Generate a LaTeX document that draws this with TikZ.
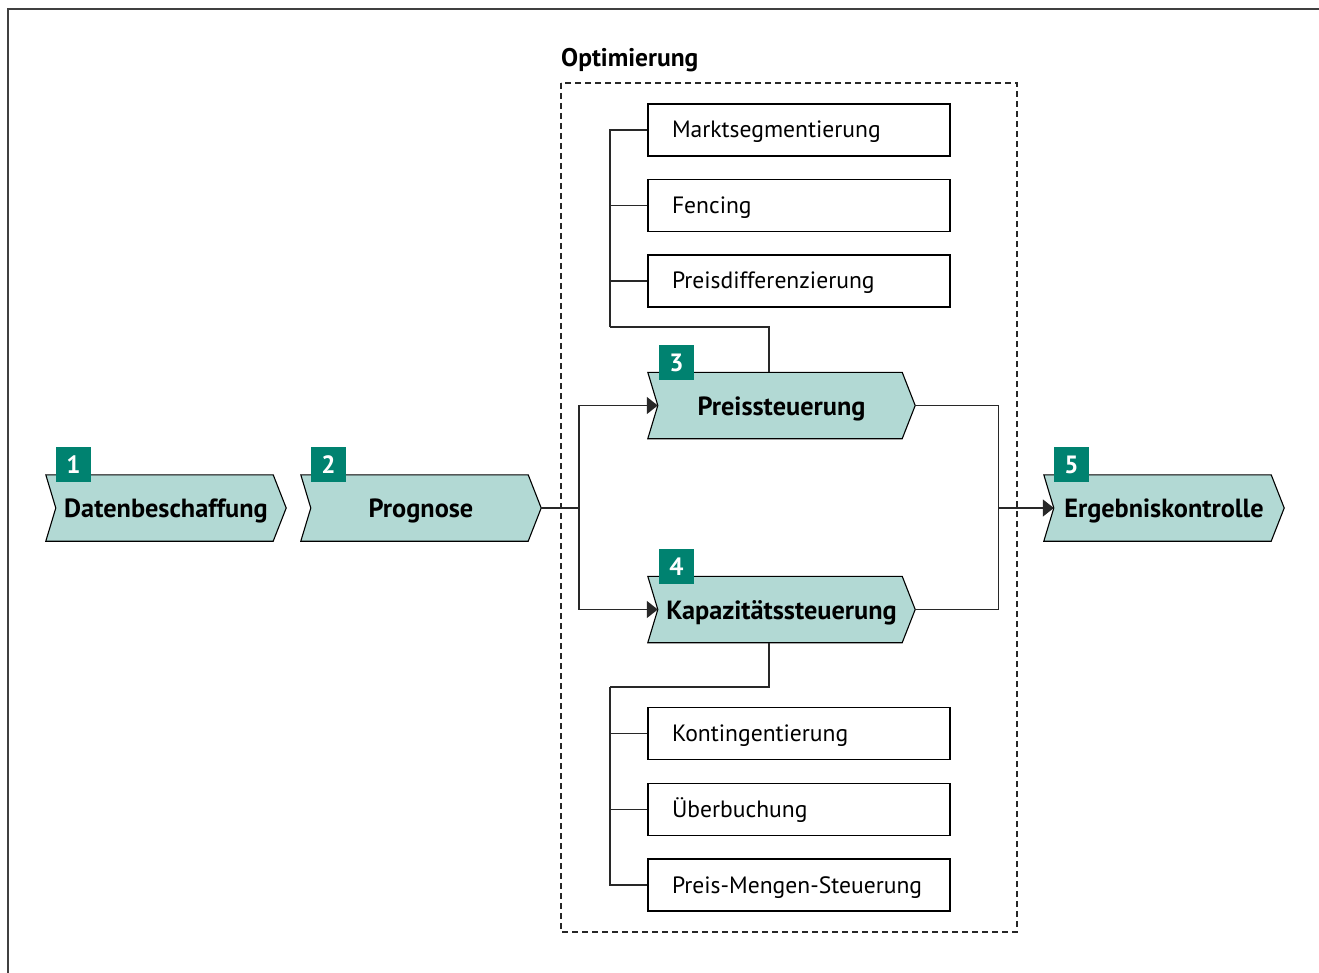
\documentclass[tikz,border=0pt]{standalone}
\usepackage{fontspec}
\setmainfont{PT Sans}
\usetikzlibrary{arrows.meta,calc}
\pgfdeclarelayer{background}
\pgfsetlayers{background,main}
\definecolor{chevfill}{RGB}{178,217,212}
\definecolor{badge}{RGB}{0,130,112}
\definecolor{linegray}{RGB}{40,40,40}
\tikzset{
 chev/.style={minimum height=66pt, inner sep=0pt, text height=19pt, text depth=0pt, font=\bfseries\fontsize{26.3}{30}\selectfont},
 chevshape/.style={fill=chevfill, draw=black, line width=1.1pt},
 badgebox/.style={fill=badge, text=white, minimum size=35pt, inner sep=0pt, font=\bfseries\fontsize{25}{30}\selectfont},
 subbox/.style={draw=black, line width=1.4pt, minimum height=52pt, text width=254pt, inner xsep=24pt, inner ysep=0pt, align=left, text height=16pt, text depth=0pt, font=\fontsize{23.6}{28}\selectfont},
 conn/.style={draw=linegray, line width=1.5pt},
 arr/.style={conn, -{Triangle[length=11pt,width=17pt]}},
 framestyle/.style={draw=black!75, line width=2pt},
 optbox/.style={draw=black!85, line width=1.3pt, dash pattern=on 6pt off 4pt},
}
\newcommand\chevbg[1]{\begin{pgfonlayer}{background}\path[chevshape] (#1.north west) -- ([xshift=-13pt]#1.north east) -- (#1.east) -- ([xshift=-13pt]#1.south east) -- (#1.south west) -- ([xshift=10pt]#1.west) -- cycle;\end{pgfonlayer}}
\begin{document}
\begin{tikzpicture}[x=1pt,y=-1pt]
\useasboundingbox (0,0) rectangle (1319,973);
% frame
\draw[framestyle] (8,973) -- (8,9) -- (1319,9);
% dashed optimisation box
\draw[optbox] (561,83) rectangle (1017,932);
\node[anchor=base west, inner sep=0pt, font=\bfseries\fontsize{25.5}{30}\selectfont] (opt) at (561,67) {Optimierung};
% chevrons
\node[chev, minimum width=240pt] (c1) at (166,508) {Datenbeschaffung};
\node[chev, minimum width=240pt] (c2) at (421,508) {Prognose};
\node[chev, minimum width=267pt] (c3) at (781.5,405.5) {Preissteuerung};
\node[chev, minimum width=267pt] (c4) at (781.5,609.5) {Kapazitätssteuerung};
\node[chev, minimum width=240pt] (c5) at (1164,508) {Ergebniskontrolle};
\chevbg{c1}\chevbg{c2}\chevbg{c3}\chevbg{c4}\chevbg{c5}
% badges
\node[badgebox] (b1) at (73.5,464.5) {1};
\node[badgebox] (b2) at (328.5,464.5) {2};
\node[badgebox] (b3) at (676.5,362.5) {3};
\node[badgebox] (b4) at (676.5,566.5) {4};
\node[badgebox] (b5) at (1071.5,464.5) {5};
% sub boxes
\node[subbox] (s1) at (799,130) {Marktsegmentierung};
\node[subbox] (s2) at (799,205.5) {Fencing};
\node[subbox] (s3) at (799,281) {Preisdifferenzierung};
\node[subbox] (s4) at (799,733.5) {Kontingentierung};
\node[subbox] (s5) at (799,809.5) {Überbuchung};
\node[subbox] (s6) at (799,885) {\mbox{Preis-Mengen-Steuerung}};
% coordinates
\coordinate (j1) at (579,508);
\coordinate (j2) at (998.5,508);
\coordinate (c3in) at ([xshift=10pt]c3.west);
\coordinate (c4in) at ([xshift=10pt]c4.west);
\coordinate (c5in) at ([xshift=10pt]c5.west);
\coordinate (t1) at (610,327);
\coordinate (t2) at (610,687);
% connectors
\draw[conn] (c2.east) -- (j1);
\draw[arr] (j1) |- (c3in);
\draw[arr] (j1) |- (c4in);
\draw[conn] (c3.east) -| (j2);
\draw[conn] (c4.east) -| (j2);
\draw[arr] (j2) -- (c5in);
\draw[conn] ([xshift=-12.5pt]c3.north) |- (t1);
\draw[conn] (t1) |- (s1.west);
\draw[conn] (s2.west) -- (s2.west -| t1);
\draw[conn] (s3.west) -- (s3.west -| t1);
\draw[conn] ([xshift=-12.5pt]c4.south) |- (t2);
\draw[conn] (t2) |- (s6.west);
\draw[conn] (s4.west) -- (s4.west -| t2);
\draw[conn] (s5.west) -- (s5.west -| t2);
\end{tikzpicture}
\end{document}
